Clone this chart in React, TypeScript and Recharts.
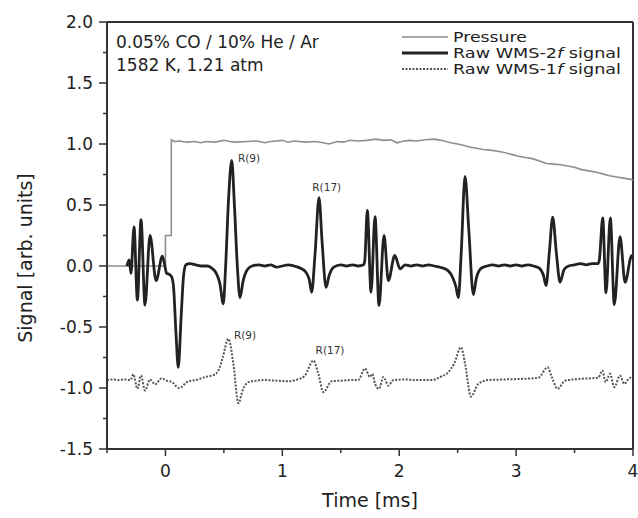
import { LineChart, Line, XAxis, YAxis, ReferenceLine, ReferenceDot } from "recharts";

// time [ms] and signal values
const PRESSURE_T = [-0.5, 0.0, 0.0, 0.05, 0.05, 0.08, 0.12, 0.18, 0.25, 0.3, 0.35, 0.42, 0.5, 0.55, 0.6, 0.7, 0.78, 0.85, 0.9, 1.0, 1.05, 1.1, 1.2, 1.28, 1.35, 1.4, 1.47, 1.52, 1.58, 1.65, 1.72, 1.8, 1.87, 1.93, 1.98, 2.04, 2.09, 2.15, 2.22, 2.3, 2.36, 2.44, 2.5, 2.55, 2.6, 2.66, 2.72, 2.78, 2.84, 2.9, 2.96, 3.02, 3.08, 3.14, 3.2, 3.26, 3.32, 3.38, 3.44, 3.5, 3.56, 3.62, 3.68, 3.74, 3.8, 3.86, 3.92, 3.98, 4.0];
const PRESSURE_V = [0.0, 0.0, 0.25, 0.25, 1.035, 1.02, 1.025, 1.015, 1.02, 1.01, 1.02, 1.015, 1.03, 1.02, 1.015, 1.02, 1.025, 1.01, 1.02, 1.03, 1.015, 1.025, 1.015, 1.02, 1.01, 1.0, 1.02, 1.015, 1.03, 1.025, 1.03, 1.04, 1.03, 1.035, 1.01, 1.025, 1.03, 1.025, 1.035, 1.04, 1.03, 1.01, 1.0, 0.99, 0.975, 0.965, 0.955, 0.95, 0.94, 0.93, 0.915, 0.9, 0.89, 0.88, 0.86, 0.84, 0.835, 0.83, 0.82, 0.81, 0.79, 0.78, 0.77, 0.755, 0.74, 0.73, 0.72, 0.71, 0.705];

const WMS2_T = [-0.33, -0.31, -0.295, -0.269, -0.24, -0.209, -0.175, -0.132, -0.08, -0.026, 0.011, 0.035, 0.054, 0.07, 0.09, 0.11, 0.135, 0.155, 0.175, 0.21, 0.26, 0.31, 0.36, 0.4, 0.435, 0.465, 0.495, 0.515, 0.54, 0.567, 0.59, 0.615, 0.638, 0.665, 0.7, 0.74, 0.8, 0.85, 0.9, 0.95, 1.0, 1.05, 1.1, 1.16, 1.2, 1.23, 1.251, 1.28, 1.314, 1.34, 1.374, 1.4, 1.44, 1.5, 1.55, 1.6, 1.65, 1.695, 1.705, 1.727, 1.759, 1.793, 1.827, 1.87, 1.907, 1.962, 2.007, 2.05, 2.1, 2.15, 2.2, 2.25, 2.3, 2.35, 2.42, 2.46, 2.485, 2.506, 2.53, 2.563, 2.595, 2.634, 2.66, 2.7, 2.75, 2.8, 2.85, 2.9, 2.95, 3.0, 3.05, 3.1, 3.15, 3.2, 3.235, 3.256, 3.285, 3.313, 3.345, 3.376, 3.41, 3.45, 3.5, 3.55, 3.6, 3.65, 3.7, 3.712, 3.741, 3.769, 3.806, 3.84, 3.889, 3.932, 3.989, 4.0];
const WMS2_V = [0.0, 0.05, -0.06, 0.32, -0.28, 0.38, -0.32, 0.25, -0.12, 0.08, -0.06, -0.07, -0.09, -0.18, -0.55, -0.83, -0.4, -0.08, 0.01, 0.02, 0.01, 0.0, 0.0, -0.02, -0.06, -0.14, -0.31, 0.0, 0.55, 0.865, 0.5, 0.0, -0.26, -0.12, -0.03, 0.0, 0.01, 0.0, 0.01, -0.01, 0.0, 0.01, 0.0, -0.02, -0.05, -0.11, -0.215, 0.1, 0.56, 0.2, -0.175, -0.08, -0.01, 0.01, 0.0, 0.01, 0.0, 0.01, 0.04, 0.455, -0.215, 0.405, -0.324, 0.25, -0.12, 0.086, -0.023, 0.01, 0.0, 0.01, 0.0, 0.01, 0.0, -0.01, -0.04, -0.1, -0.17, -0.26, 0.1, 0.734, 0.3, -0.234, -0.1, -0.02, 0.0, 0.01, 0.0, 0.01, 0.0, 0.01, 0.0, 0.01, 0.0, -0.02, -0.08, -0.16, 0.12, 0.4, 0.1, -0.133, -0.03, 0.0, 0.01, 0.02, 0.01, 0.02, 0.02, 0.05, 0.395, -0.22, 0.395, -0.316, 0.24, -0.133, 0.085, 0.06];

const WMS1_T = [-0.5, -0.45, -0.4, -0.35, -0.3, -0.29, -0.275, -0.24, -0.209, -0.175, -0.132, -0.089, -0.032, 0.01, 0.054, 0.116, 0.196, 0.26, 0.339, 0.42, 0.453, 0.49, 0.538, 0.581, 0.624, 0.66, 0.709, 0.78, 0.852, 0.95, 1.051, 1.13, 1.194, 1.265, 1.308, 1.351, 1.423, 1.5, 1.58, 1.65, 1.707, 1.75, 1.77, 1.793, 1.827, 1.864, 1.907, 1.95, 2.05, 2.15, 2.28, 2.35, 2.42, 2.47, 2.529, 2.563, 2.614, 2.677, 2.762, 2.9, 3.05, 3.19, 3.27, 3.305, 3.356, 3.418, 3.55, 3.703, 3.737, 3.766, 3.803, 3.84, 3.889, 3.925, 3.974, 4.0];
const WMS1_V = [-0.935, -0.93, -0.935, -0.93, -0.935, -0.92, -0.887, -1.007, -0.898, -1.02, -0.93, -0.97, -0.92, -0.94, -0.95, -1.0, -0.945, -0.935, -0.91, -0.89, -0.857, -0.75, -0.597, -0.8, -1.125, -1.02, -0.952, -0.94, -0.935, -0.94, -0.944, -0.93, -0.898, -0.775, -0.884, -1.034, -0.944, -0.94, -0.935, -0.935, -0.84, -0.91, -0.884, -0.966, -1.007, -0.91, -0.98, -0.935, -0.93, -0.935, -0.935, -0.91, -0.87, -0.8, -0.666, -0.8, -1.07, -0.966, -0.935, -0.93, -0.925, -0.916, -0.83, -0.91, -1.007, -0.94, -0.925, -0.916, -0.857, -0.952, -0.884, -0.993, -0.898, -0.966, -0.916, -0.93];

const X_TICKS = [-0.5, 0, 0.5, 1, 1.5, 2, 2.5, 3, 3.5, 4];
const Y_TICKS = [-1.5, -1.25, -1, -0.75, -0.5, -0.25, 0, 0.25, 0.5, 0.75, 1, 1.25, 1.5, 1.75, 2];

// peak labels: [text, t, v] (label centre)
const PEAK_LABELS: [string, number, number][] = [
  ["R(9)", 0.715, 0.88],
  ["R(17)", 1.38, 0.646],
  ["R(9)", 0.681, -0.57],
  ["R(17)", 1.408, -0.687],
];

const zip = (t: number[], v: number[]) => t.map((x, i) => ({ t: x, v: v[i] }));
const pressure = zip(PRESSURE_T, PRESSURE_V);
const wms2 = zip(WMS2_T, WMS2_V);
const wms1 = zip(WMS1_T, WMS1_V);

const FONT = "'DejaVu Sans', sans-serif";
const AXIS = "#333";
const TICK_SIZE = 8;
const TICK_MARGIN = 2;

const YTick = (props: any) => {
  const { x, y, payload } = props;
  const v = payload.value;
  const major = Math.abs(v * 2 - Math.round(v * 2)) < 1e-6;
  const ax = x + TICK_SIZE + TICK_MARGIN;
  return (
    <g>
      <line x1={ax} x2={ax - (major ? 8 : 4)} y1={y} y2={y} stroke={AXIS} strokeWidth={1.5} />
      {major && (
        <text x={ax - 14} y={y} dy="0.36em" textAnchor="end" fontSize={17} fontFamily={FONT} fill="#222">
          {v.toFixed(1)}
        </text>
      )}
    </g>
  );
};

const XTick = (props: any) => {
  const { x, y, payload } = props;
  const v = payload.value;
  const major = Number.isInteger(v);
  const ay = y - TICK_SIZE - TICK_MARGIN;
  return (
    <g>
      <line x1={x} x2={x} y1={ay} y2={ay + (major ? 7 : 4)} stroke={AXIS} strokeWidth={1.5} />
      {major && (
        <text x={x} y={ay + 28} textAnchor="middle" fontSize={17} fontFamily={FONT} fill="#222">
          {v}
        </text>
      )}
    </g>
  );
};

export default function App() {
  return (
    <div style={{ position: "absolute", left: 0, top: 0, background: "#fff" }}>
      <LineChart width={638} height={518} margin={{ top: 22, right: 5, bottom: 39, left: 47 }}>
        <XAxis
          dataKey="t"
          type="number"
          domain={[-0.5, 4]}
          ticks={X_TICKS}
          allowDataOverflow
          height={30}
          tickSize={TICK_SIZE}
          tickMargin={TICK_MARGIN}
          tickLine={false}
          tick={<XTick />}
          axisLine={{ stroke: AXIS, strokeWidth: 2 }}
        />
        <YAxis
          type="number"
          domain={[-1.5, 2]}
          ticks={Y_TICKS}
          allowDataOverflow
          width={60}
          tickSize={TICK_SIZE}
          tickMargin={TICK_MARGIN}
          tickLine={false}
          tick={<YTick />}
          axisLine={{ stroke: AXIS, strokeWidth: 2 }}
        />
        <ReferenceLine y={2} stroke={AXIS} strokeWidth={2} />
        <ReferenceLine x={4} stroke={AXIS} strokeWidth={2} />
        <Line data={pressure} dataKey="v" type="linear" stroke="#8e8e8e" strokeWidth={1.6} dot={false} isAnimationActive={false} />
        <Line data={wms1} dataKey="v" type="monotone" stroke="#555" strokeWidth={2} strokeDasharray="2 1.5" dot={false} isAnimationActive={false} />
        <Line data={wms2} dataKey="v" type="monotone" stroke="#222" strokeWidth={2.8} dot={false} isAnimationActive={false} />
        {PEAK_LABELS.map(([txt, t, v], i) => (
          <ReferenceDot
            key={i}
            x={t}
            y={v}
            r={0}
            stroke="none"
            fill="none"
            label={{ value: txt, position: "center", fontSize: 10.5, fontFamily: FONT, fill: "#333" }}
          />
        ))}
        <text x={116} y={48} fontSize={17} fontFamily={FONT} fill="#222">0.05% CO / 10% He / Ar</text>
        <text x={116} y={71} fontSize={17} fontFamily={FONT} fill="#222">1582 K, 1.21 atm</text>
        <g fontFamily={FONT} fontSize={13.5} fill="#222">
          <line x1={402} x2={448} y1={37} y2={37} stroke="#8e8e8e" strokeWidth={1.6} />
          <text x={453} y={37} dy="0.36em" textLength={74} lengthAdjust="spacingAndGlyphs">Pressure</text>
          <line x1={402} x2={448} y1={53} y2={53} stroke="#222" strokeWidth={2.8} />
          <text x={453} y={53} dy="0.36em" textLength={168} lengthAdjust="spacingAndGlyphs">
            Raw WMS-2<tspan fontStyle="italic">f</tspan> signal
          </text>
          <line x1={402} x2={448} y1={69} y2={69} stroke="#555" strokeWidth={2} strokeDasharray="2 1.5" />
          <text x={453} y={69} dy="0.36em" textLength={168} lengthAdjust="spacingAndGlyphs">
            Raw WMS-1<tspan fontStyle="italic">f</tspan> signal
          </text>
        </g>
        <text x={370} y={507} textAnchor="middle" fontSize={19} fontFamily={FONT} fill="#222">Time [ms]</text>
        <text x={32} y={258} transform="rotate(-90 32 258)" textAnchor="middle" fontSize={19} fontFamily={FONT} fill="#222">
          Signal [arb. units]
        </text>
      </LineChart>
    </div>
  );
}
